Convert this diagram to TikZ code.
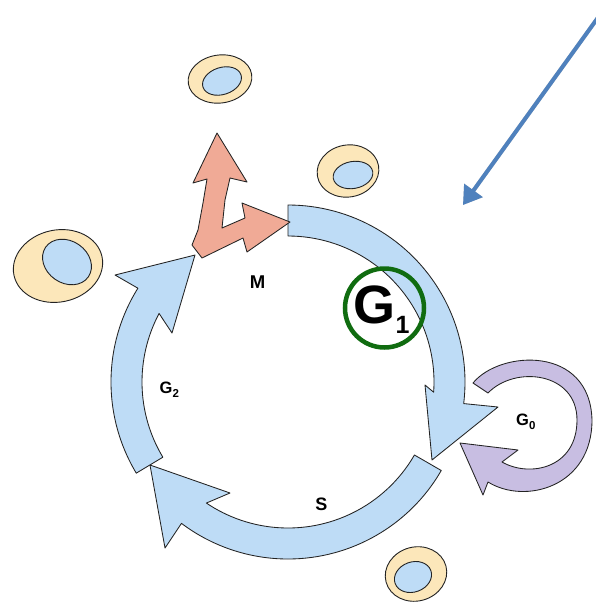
\documentclass[tikz,border=0pt]{standalone}
\usepackage{fontspec}
\newfontfamily\labelfont{Liberation Sans}
\usetikzlibrary{arrows.meta}

\definecolor{phaseblue}{RGB}{190,220,246}
\definecolor{mitosis}{RGB}{240,170,150}
\definecolor{quiescent}{RGB}{200,190,226}
\definecolor{cytoplasm}{RGB}{252,231,186}
\definecolor{outline}{RGB}{35,35,35}
\definecolor{ringgreen}{RGB}{16,108,16}
\definecolor{pointerblue}{RGB}{79,129,189}

\newcommand\lowidx[1]{\raisebox{-4pt}{\fontsize{11.5}{11.5}\selectfont #1}}

\tikzset{
  band/.style={fill=phaseblue, draw=outline, line width=0.85pt, line join=round},
  mband/.style={fill=mitosis, draw=outline, line width=0.85pt, line join=round},
  qband/.style={fill=quiescent, draw=outline, line width=0.85pt, line join=round},
  cellbody/.style={fill=cytoplasm, draw=outline, line width=0.9pt},
  nucleus/.style={fill=phaseblue, draw=outline, line width=0.9pt},
  phaselabel/.style={font=\labelfont\bfseries\fontsize{16.5}{16.5}\selectfont, inner sep=0pt},
  pointer/.style={draw=pointerblue, line width=4pt, -{Triangle[length=18pt,width=22pt]}},
}

\begin{document}
\begin{tikzpicture}[x=1pt,y=-1pt]
  \useasboundingbox (0,0) rectangle (596,606);
  \fill[white] (0,0) rectangle (596,606);

  % daughter and resting cells
  \draw[cellbody] (220,79) ellipse [x radius=32, y radius=24, rotate=8];
  \draw[nucleus]  (222,81) ellipse [x radius=20, y radius=13.5, rotate=18];
  \draw[cellbody] (348,171) ellipse [x radius=31, y radius=26, rotate=10];
  \draw[nucleus]  (353,175) ellipse [x radius=20, y radius=13.5, rotate=10];
  \draw[cellbody] (58,266) ellipse [x radius=45, y radius=36, rotate=12];
  \draw[nucleus]  (67,262) ellipse [x radius=26, y radius=21, rotate=-35];
  \draw[cellbody] (416,574) ellipse [x radius=31, y radius=27, rotate=15];
  \draw[nucleus]  (413,577) ellipse [x radius=19, y radius=15, rotate=20];

  % cycle phases as curved band arrows around one centre
  \begin{scope}[shift={(288,382)}]
    % G1
    \draw[band] (-90:177) arc[start angle=-90, end angle=7, radius=177]
      -- (210,25) -- (144,78) -- (137,3) -- (4:146)
      arc[start angle=4, end angle=-90, radius=146] -- cycle;
    % S
    \draw[band] (30:177) arc[start angle=30, end angle=127, radius=177]
      -- (-123,166) -- (-138,83) -- (-58,111) -- (124:146)
      arc[start angle=124, end angle=30, radius=146] -- cycle;
    % G2
    \draw[band] (149:177) arc[start angle=149, end angle=212, radius=177]
      -- (-173,-107) -- (-93,-127) -- (-116,-49) -- (208:146)
      arc[start angle=208, end angle=149, radius=146] -- cycle;
  \end{scope}

  % M: forked arrow
  \draw[mband] (217,133) -- (247,182) -- (230,178) -- (225,200) -- (222,228)
    -- (245,218) -- (242,203) -- (290,222) -- (247,252) -- (243,238)
    -- (202,258) -- (192,245) -- (198,230) -- (203,203) -- (207,179)
    -- (193,183) -- cycle;

  % G0: loop arrow
  \draw[qband] (473,383) .. controls (500,350) and (590,345) .. (592,420)
    .. controls (592,487) and (525,505) .. (488,482)
    -- (483,495) -- (460,443) -- (518,450) -- (502,462)
    .. controls (530,478) and (577,468) .. (577,420)
    .. controls (577,372) and (515,365) .. (488,393) -- cycle;

  % phase labels
  \node[phaselabel, font=\labelfont\bfseries\fontsize{18.5}{18.5}\selectfont] (mlab) at (257.5,282.5) {M};
  \node[phaselabel, anchor=base west] (gtwolab) at (159.5,393) {G\lowidx{2}};
  \node[phaselabel, anchor=base west] (gzerolab) at (516,425) {G\lowidx{0}};
  \node[phaselabel, font=\labelfont\bfseries\fontsize{18}{18}\selectfont] (slab) at (321.5,504) {S};

  % highlighted G1
  \node[circle, draw=ringgreen, line width=4.5pt, minimum size=79pt, inner sep=0pt] (gonering) at (384.5,308) {};
  \node[anchor=base west, inner sep=0pt, font=\labelfont\bfseries\fontsize{54}{54}\selectfont] (gonelab) at (353.5,323)
    {G\raisebox{-10pt}{\fontsize{25}{25}\selectfont 1}};

  % pointer arrow
  \coordinate (ptfrom) at (602,12);
  \coordinate (ptto) at (463,205);
  \draw[pointer, draw=black, opacity=0.2, shift={(2,3)}] (ptfrom) -- (ptto);
  \draw[pointer] (ptfrom) -- (ptto);
\end{tikzpicture}
\end{document}
